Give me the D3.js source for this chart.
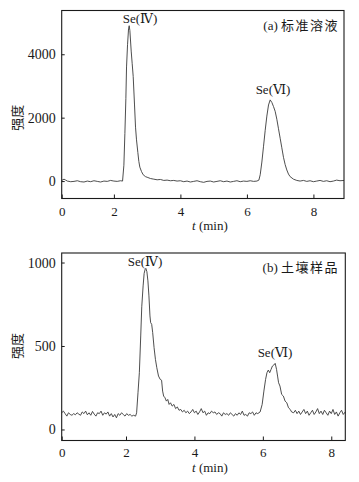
<!DOCTYPE html>
<html><head><meta charset="utf-8">
<script src="https://cdn.jsdelivr.net/npm/d3@7"></script>
<style>
html,body{margin:0;padding:0;background:#fff;}
svg{display:block;}
.serif{font-family:"Liberation Serif","DejaVu Serif",serif;}
.cjk{font-family:"Noto Sans CJK SC",sans-serif;}
</style></head>
<body>
<svg id="chart" width="359" height="482"></svg>
<script>
// ---------- Panel (a): standard solution ----------
const timeA = [0.43,0.5,0.55,0.6,0.7,0.8,0.9,1.0,1.1,1.2,1.3,1.4,1.5,1.6,1.7,1.8,1.9,2.0,2.1,2.2,2.26,
  2.30,2.33,2.36,2.38,2.41,2.44,2.46,2.48,2.52,2.55,2.58,2.62,2.65,2.68,2.72,2.75,2.78,2.83,2.88,2.95,3.0,3.1,3.2,3.3,3.4,3.5,3.6,3.7,3.8,3.9,4.0,
  4.1,4.2,4.3,4.4,4.5,4.6,4.7,4.8,4.9,5.0,5.1,5.2,5.3,5.4,5.5,5.6,5.7,5.8,5.9,6.0,6.1,6.2,6.3,6.36,
  6.40,6.45,6.50,6.55,6.60,6.65,6.70,6.75,6.80,6.85,6.90,6.95,7.00,7.05,7.10,7.15,7.20,7.25,7.30,7.40,7.50,
  7.6,7.7,7.8,7.9,8.0,8.1,8.2,8.3,8.4,8.5,8.6,8.7,8.8,8.92];
const intensityA = [20,60,30,0,-20,-10,10,-20,-30,0,-20,10,-10,-30,0,-10,20,0,-10,10,0,
  500,1500,2600,3600,4300,4800,4900,4750,4100,3700,3300,2400,1700,1300,900,620,440,300,200,140,120,80,60,40,50,20,30,10,20,0,10,
  -20,0,-30,-10,10,-20,-40,-10,0,-30,-10,10,-20,0,-30,-10,10,-20,0,-10,10,-10,0,30,
  200,600,1100,1600,2050,2400,2560,2480,2350,2200,1950,1650,1350,1050,750,520,350,220,140,60,20,
  0,20,-10,10,-20,0,20,-10,10,-20,0,30,10,20];
const yTicksA = [0,2000,4000];

// ---------- Panel (b): soil sample ----------
const timeB = [0.12,0.17,0.22,0.27,0.32,0.37,0.42,0.47,0.52,0.57,0.62,0.67,0.72,0.77,0.82,0.87,0.92,0.97,1.02,1.07,1.12,1.17,1.22,1.27,1.32,1.37,1.42,1.47,1.52,1.57,1.62,1.67,1.72,1.77,1.82,1.87,1.92,1.97,2.02,2.07,2.12,2.17,2.22,2.28,
  2.31,2.35,2.39,2.43,2.46,2.50,2.53,2.56,2.58,2.61,2.64,2.67,2.70,2.72,2.75,2.78,2.82,2.86,2.90,2.95,3.00,3.04,3.07,3.10,3.14,3.18,3.22,3.26,3.30,3.35,3.40,3.45,3.50,3.55,3.60,
  3.65,3.70,3.75,3.80,3.85,3.90,3.95,4.00,4.05,4.10,4.15,4.20,4.25,4.30,4.35,4.40,4.45,4.50,4.55,4.60,4.65,4.70,4.75,4.80,4.85,4.90,4.95,5.00,5.05,5.10,5.15,5.20,5.25,5.30,5.35,5.40,5.45,5.50,5.55,5.60,5.65,5.70,5.75,5.80,5.85,5.92,
  5.98,6.03,6.08,6.12,6.16,6.20,6.24,6.28,6.32,6.36,6.40,6.43,6.46,6.50,6.55,6.60,6.65,6.70,6.75,6.80,6.84,
  6.90,6.95,7.00,7.05,7.10,7.15,7.20,7.25,7.30,7.35,7.40,7.45,7.50,7.55,7.60,7.65,7.70,7.75,7.80,7.85,7.90,7.95,8.00,8.05,8.10,8.15,8.20,8.25,8.30,8.35,8.41];
const intensityB = [100,110,95,80,100,90,85,95,88,100,92,85,105,95,110,88,100,85,108,92,80,100,95,110,85,100,92,105,80,95,75,90,70,95,85,100,90,80,95,85,90,80,85,80,
  100,220,340,560,735,860,935,960,965,945,890,800,680,640,630,580,490,420,370,320,300,295,230,200,190,170,180,150,160,140,150,125,135,115,120,
  105,115,100,110,95,105,120,100,110,90,105,125,100,110,85,100,95,110,100,105,90,100,95,80,100,90,95,85,100,90,80,95,85,100,90,110,85,90,80,100,95,105,85,100,95,105,
  150,230,300,340,356,340,360,380,386,396,360,320,280,260,210,200,170,160,130,120,105,
  100,115,95,110,90,105,120,95,110,85,100,115,90,105,125,95,110,90,115,100,85,110,95,120,90,105,80,100,115,90,105];
const yTicksB = [0,500,1000];

const xTickLabels = ["0","2","4","6","8"];
const xTickValues = [2,4,6,8];

const panels = [
  {time:timeA, val:intensityA, yTicks:yTicksA, xDom:[0.43,8.92], yDom:[-550,5380],
   box:{l:61.7,r:344,t:10.5,b:198.5}, xPad:8, xLabY:230,
   tag:"(a)", title:"标准溶液", titleY:30, titleX:339,
   peaks:[{txt:"Se(Ⅳ)", x:140, y:23},{txt:"Se(Ⅵ)", x:273, y:94}], yLab:2000},
  {time:timeB, val:intensityB, yTicks:yTicksB, xDom:[0.12,8.41], yDom:[-66,1057],
   box:{l:61.7,r:345.3,t:253,b:440.5}, xPad:7, xLabY:472,
   tag:"(b)", title:"土壤样品", titleY:272, titleX:339,
   peaks:[{txt:"Se(Ⅳ)", x:145, y:266},{txt:"Se(Ⅵ)", x:275, y:357}], yLab:500}
];

const svg = d3.select("#chart");
const ink = "#1a1a1a";

panels.forEach(p => {
  const x = d3.scaleLinear().domain(p.xDom).range([p.box.l, p.box.r]);
  const y = d3.scaleLinear().domain(p.yDom).range([p.box.b, p.box.t]);
  const g = svg.append("g");

  // curve
  const pts = p.time.map((t,i)=>[t,p.val[i]]);
  g.append("path").datum(pts)
    .attr("fill","none").attr("stroke","#3a3a3a").attr("stroke-width",0.9)
    .attr("stroke-linejoin","round")
    .attr("d", d3.line().x(d=>x(d[0])).y(d=>y(d[1])));

  // x axis
  const xa = g.append("g").attr("transform",`translate(0,${p.box.b})`)
    .call(d3.axisBottom(x).tickValues([p.xDom[0]].concat(xTickValues))
      .tickFormat((d,i)=>xTickLabels[i]).tickSizeInner(-4).tickSizeOuter(0).tickPadding(p.xPad));
  xa.select(".domain").remove();
  xa.selectAll("line").attr("stroke",ink);
  xa.selectAll("text").attr("class","serif").attr("font-size",13).attr("fill",ink);

  // y axis
  const ya = g.append("g").attr("transform",`translate(${p.box.l},0)`)
    .call(d3.axisLeft(y).tickValues(p.yTicks).tickFormat(d3.format("d"))
      .tickSizeInner(-3).tickSizeOuter(0).tickPadding(6));
  ya.select(".domain").remove();
  ya.selectAll("line").attr("stroke",ink);
  ya.selectAll("text").attr("class","serif").attr("font-size",14).attr("fill",ink);

  // frame
  g.append("rect").attr("x",p.box.l).attr("y",p.box.t)
    .attr("width",p.box.r-p.box.l).attr("height",p.box.b-p.box.t)
    .attr("fill","none").attr("stroke",ink).attr("stroke-width",1.1);

  // x label
  const xl = g.append("text").attr("x",192).attr("y",p.xLabY)
    .attr("class","serif").attr("font-size",13).attr("fill",ink);
  xl.append("tspan").attr("font-style","italic").text("t");
  xl.append("tspan").text(" (min)");

  // y label
  g.append("text").attr("class","cjk").attr("font-size",13).attr("fill",ink)
    .attr("text-anchor","middle")
    .attr("transform",`translate(22,${y(p.yLab)}) rotate(-90)`)
    .text("强度");

  // title
  const tt = g.append("text").attr("x",p.titleX).attr("y",p.titleY)
    .attr("text-anchor","end").attr("font-size",13).attr("fill",ink);
  tt.append("tspan").attr("class","serif").text(p.tag + " ");
  tt.append("tspan").attr("class","cjk").attr("letter-spacing",1.5).text(p.title);

  // peak labels
  p.peaks.forEach(k=>{
    g.append("text").attr("x",k.x).attr("y",k.y).attr("text-anchor","middle")
      .attr("class","serif").attr("font-size",13).attr("fill",ink).text(k.txt);
  });
});
</script>
</body></html>
